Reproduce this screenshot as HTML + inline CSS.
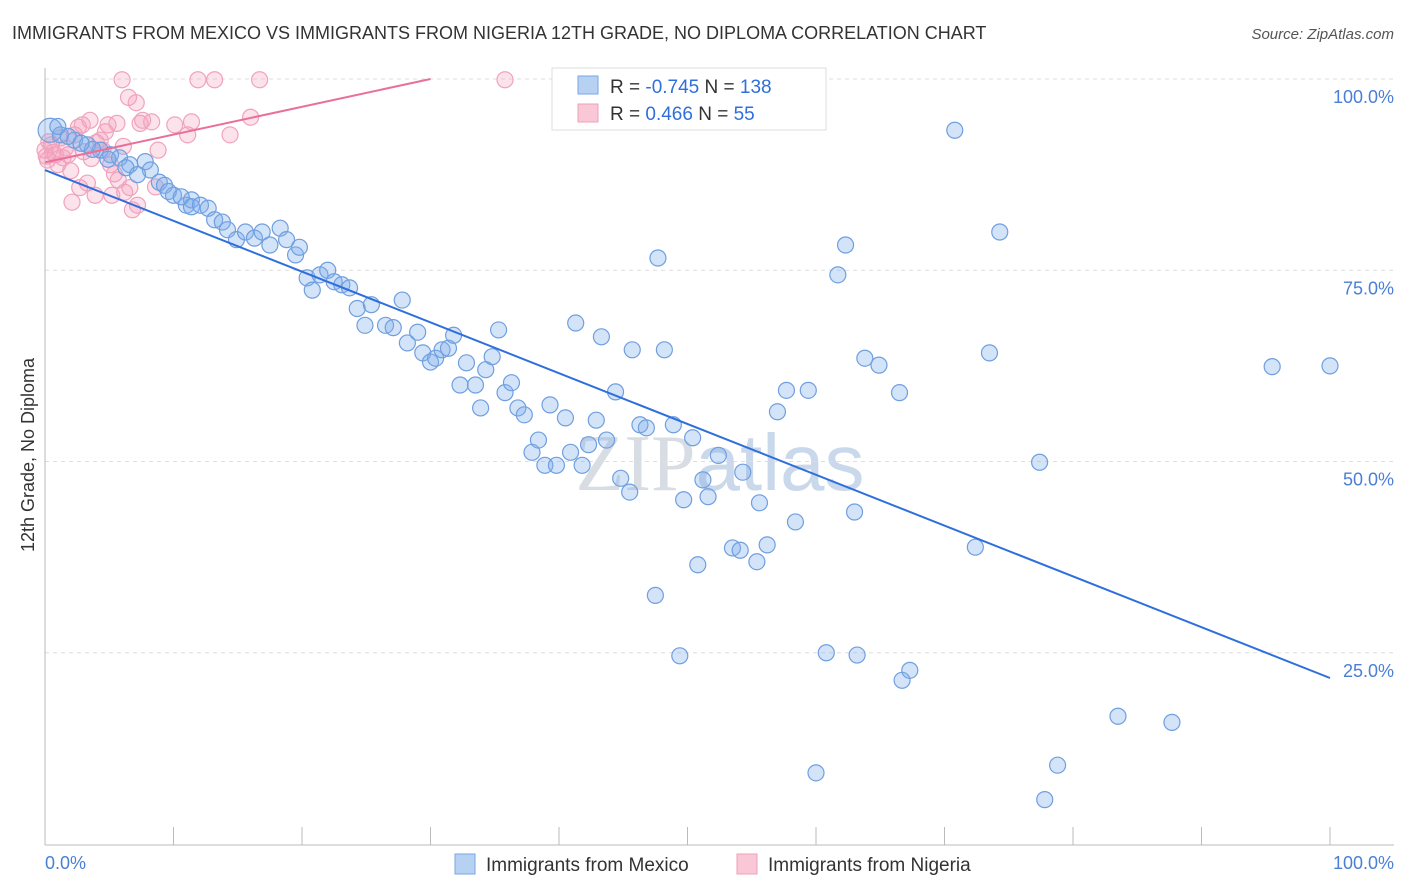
<!DOCTYPE html>
<html><head><meta charset="utf-8"><style>
body{margin:0;background:#fff;font-family:"Liberation Sans",sans-serif}
svg{display:block}
</style></head><body>
<svg id="chart" width="1406" height="892" xmlns="http://www.w3.org/2000/svg">
<text x="12" y="39" font-size="18" fill="#333">IMMIGRANTS FROM MEXICO VS IMMIGRANTS FROM NIGERIA 12TH GRADE, NO DIPLOMA CORRELATION CHART</text>
<text x="1394" y="39" font-size="15" fill="#555" font-style="italic" text-anchor="end">Source: ZipAtlas.com</text>
<text x="720" y="490" font-size="80" fill="#d8dde4" text-anchor="middle" font-family="Liberation Serif">ZIP<tspan fill="#c9d8ea" font-family="Liberation Sans">atlas</tspan></text>
<g id="grid"></g>
<g id="axes"></g>
<g id="pts"></g>
<g id="lines"></g>
<text transform="translate(34,455) rotate(-90)" font-size="18" fill="#333" text-anchor="middle">12th Grade, No Diploma</text>
<text x="45" y="869" font-size="18" fill="#4a7fd6">0.0%</text>
<text x="1394" y="869" font-size="18" fill="#4a7fd6" text-anchor="end">100.0%</text>
<g>
<rect x="552" y="68" width="274" height="62" fill="#fff" stroke="#ddd"/>
<rect x="578" y="76" width="20" height="18" fill="#b7d1f3" stroke="#7aa6e6"/>
<rect x="578" y="104" width="20" height="18" fill="#f9c7d6" stroke="#eea0b8"/>
<text x="610" y="93" font-size="19" fill="#333">R = <tspan fill="#2f6fdc">-0.745</tspan>   N = <tspan fill="#2f6fdc">138</tspan></text>
<text x="610" y="120" font-size="19" fill="#333">R =  <tspan fill="#2f6fdc">0.466</tspan>   N =  <tspan fill="#2f6fdc">55</tspan></text>
</g>
<g>
<rect x="455" y="854" width="20" height="20" fill="#b7d1f3" stroke="#7aa6e6"/>
<text x="486" y="871" font-size="19" fill="#333">Immigrants from Mexico</text>
<rect x="737" y="854" width="20" height="20" fill="#f9c7d6" stroke="#eea0b8"/>
<text x="768" y="871" font-size="19" fill="#333">Immigrants from Nigeria</text>
</g>
</svg>
<script>
const yTicks=[25,50,75,100];
const yTickLabels=["25.0%","50.0%","75.0%","100.0%"];
const xTicks=[0,10,20,30,40,50,60,70,80,90,100];
const mexicoX=[0.4,1.2,2.3,3.3,4.3,5.1,5.8,6.6,7.8,8.2,8.9,9.3,10,11,11.4,11.4,12.1,12.7,13.2,13.8,14.2,14.9,15.6,16.3,16.9,17.5,18.3,18.8,19.5,19.8,20.4,20.8,21.4,22,22.5,23.1,23.7,24.3,24.9,25.4,26.5,27.1,27.8,28.2,29,29.4,30,30.4,30.9,31.4,31.8,32.3,32.8,33.5,33.9,34.3,34.8,35.3,35.8,36.3,36.8,37.3,37.9,38.4,38.9,39.3,39.8,40.5,40.9,41.3,41.8,42.3,42.9,43.3,43.7,44.4,44.8,45.5,45.7,46.3,46.8,47.5,47.7,48.2,48.9,49.4,49.7,50.4,50.8,51.2,51.6,52.4,53.5,54.1,54.3,54.7,55.4,55.6,56.2,57,57.7,58.4,59.4,60,60.8,61.7,62.3,63,63.2,63.8,64.9,66.5,66.7,67.3,70.8,72.4,73.5,74.3,77.4,77.8,78.8,83.5,87.7,95.5,100,1.8,1.0,3.7,4.9,6.3,2.8,7.2,9.6,10.6];
const mexicoY=[93.3,92.7,92,91.4,90.7,90.1,89.7,88.8,89.2,88.1,86.5,86.1,84.8,83.5,84.2,83.3,83.5,83.1,81.6,81.3,80.3,79,80,79.2,80,78.3,80.5,79,77,78,74,72.4,74.4,75,73.5,73.1,72.7,70,67.8,70.5,67.8,67.5,71.1,65.5,66.9,64.2,63,63.5,64.6,64.8,66.5,60,62.9,60,57,62,63.7,67.2,59,60.3,57,56.1,51.2,52.8,49.5,57.4,49.5,55.7,51.2,68.1,49.5,52.2,55.4,66.3,52.8,59.1,47.8,46,64.6,54.8,54.4,32.5,76.6,64.6,54.8,24.6,45,53.1,36.5,47.6,45.4,50.8,38.7,38.4,48.6,99.9,36.9,44.6,39.1,56.5,59.3,42.1,59.3,9.3,25,74.4,78.3,43.4,24.7,63.5,62.6,59,21.4,22.7,93.3,38.8,64.2,80,49.9,5.8,10.3,16.7,15.9,62.4,62.5,92.5,93.8,90.8,89.5,88.4,91.6,87.5,85.3,84.6];
const nigeriaX=[0,0.2,0.5,0.8,1,1.4,1.8,2.1,2.3,2.6,2.9,2.7,3.3,3.5,3.9,4.3,4.5,4.9,5.1,5.2,5.6,5.7,6,6.2,6.5,6.6,6.8,7.1,7.2,7.4,7.6,8.3,8.6,8.8,10.1,11.1,11.4,11.9,13.2,14.4,16,16.7,35.8,0.3,0.6,1.2,1.6,2.0,3.0,3.6,4.0,4.7,5.4,6.1,0.1];
const nigeriaY=[90.7,89.4,91.4,90.1,88.8,89.7,90.1,83.9,92.7,93.7,94,85.8,86.4,94.6,84.8,92,90.7,94,88.8,84.8,94.2,86.8,99.9,85.2,97.6,85.8,82.9,96.9,83.5,94.2,94.6,94.4,85.9,90.7,94,92.7,94.4,99.9,99.9,92.7,95,99.9,99.9,91.8,90.4,92.3,91,88,90.5,89.6,91.7,93.1,87.6,91.2,89.9];
const mexicoTrend=[88.1,21.7];
const nigeriaTrend=[89.1,100];
const NS="http://www.w3.org/2000/svg";
const X=v=>45+v*12.85, Y=v=>844-v*7.65;
function mk(t,a,p){const e=document.createElementNS(NS,t);for(const k in a)e.setAttribute(k,a[k]);p.appendChild(e);return e;}
const grid=document.getElementById('grid'),axes=document.getElementById('axes'),pts=document.getElementById('pts'),lines=document.getElementById('lines');
yTicks.forEach((t,i)=>{
 const l=mk('line',{x1:45,x2:1394,y1:Y(t),y2:Y(t),stroke:'#ddd','stroke-dasharray':'4,4'},grid);
 
 
 const tx=mk('text',{x:1394,y:Y(t)+24,'font-size':18,fill:'#4a7fd6','text-anchor':'end'},axes);
 tx.textContent=yTickLabels[i];
 
 
});
const ya=mk('line',{x1:45,x2:45,y1:68,y2:845,stroke:'#bbb'},axes);


const xa=mk('line',{x1:45,x2:1394,y1:845,y2:845,stroke:'#bbb'},axes);


xTicks.forEach(t=>{
 const l=mk('line',{x1:X(t),x2:X(t),y1:827,y2:845,stroke:'#bbb'},axes);
 
 
});
nigeriaX.forEach((x,i)=>{
 const c=mk('circle',{cx:X(x),cy:Y(nigeriaY[i]),r:8,fill:'rgba(244,160,188,0.3)',stroke:'#f0a3bc','stroke-width':1.2},pts);
 
 
});
mexicoX.forEach((x,i)=>{
 const c=mk('circle',{cx:X(x),cy:Y(mexicoY[i]),r:i==0?12:8,fill:'rgba(130,175,235,0.35)',stroke:'#6f9fe0','stroke-width':1.2},pts);
 
 
});
const bl=mk('line',{x1:X(0),y1:Y(mexicoTrend[0]),x2:X(100),y2:Y(mexicoTrend[1]),stroke:'#2f6fdc','stroke-width':2},lines);


const pl=mk('line',{x1:X(0),y1:Y(nigeriaTrend[0]),x2:X(30),y2:Y(nigeriaTrend[1]),stroke:'#e8709a','stroke-width':2},lines);


</script>
</body></html>
